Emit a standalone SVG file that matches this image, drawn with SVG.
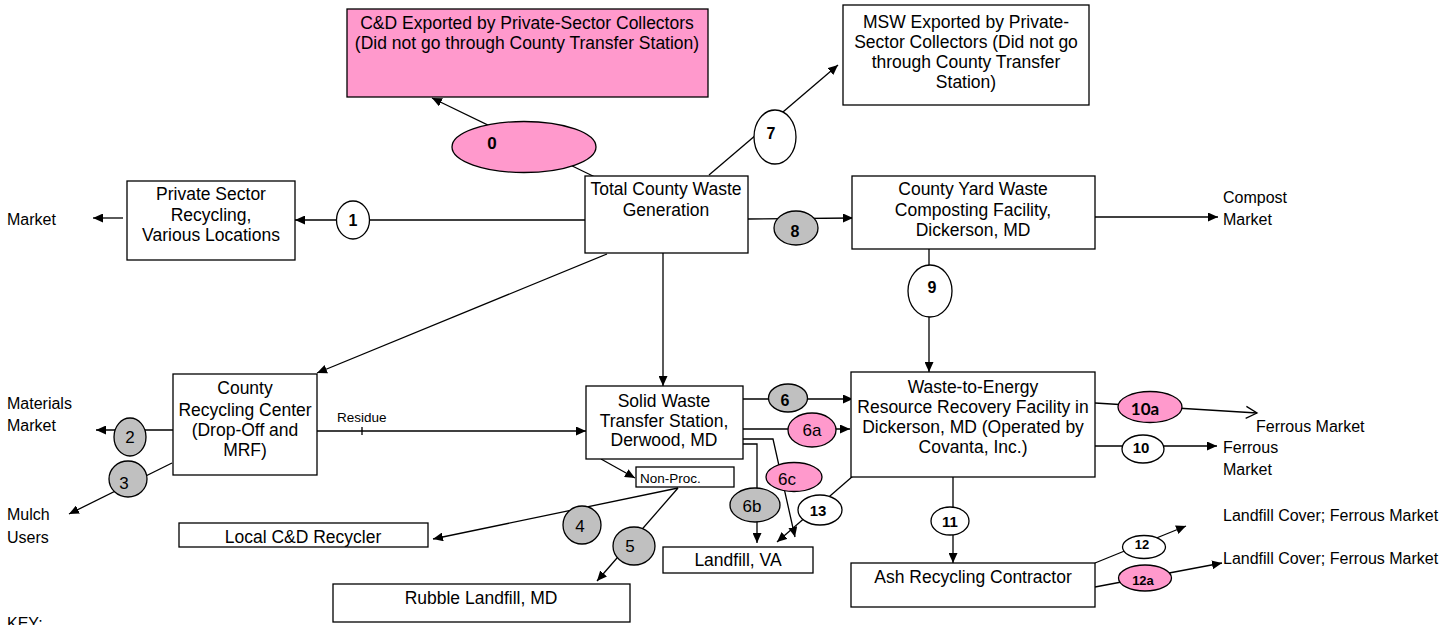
<svg xmlns="http://www.w3.org/2000/svg" width="1451" height="625" viewBox="0 0 1451 625">
<defs>
<marker id="ah" markerUnits="userSpaceOnUse" markerWidth="11" markerHeight="9" refX="10" refY="4.5" orient="auto"><path d="M0,0 L10,4.5 L0,9 z" fill="#000"/></marker>
<marker id="oh" markerUnits="userSpaceOnUse" markerWidth="14" markerHeight="14" refX="12" refY="7" orient="auto"><path d="M1,1 L12,7 L1,13" fill="none" stroke="#000" stroke-width="1.3"/></marker>
<style>
.bx{fill:#fff;stroke:#000;stroke-width:1.3}
.pk{fill:#FF99CC;stroke:#000;stroke-width:1.3}
.gy{fill:#C0C0C0;stroke:#000;stroke-width:1.3}
.wt{fill:#fff;stroke:#000;stroke-width:1.3}
.t{font-family:"Liberation Sans",Arial,sans-serif;font-size:17.5px;fill:#000;text-anchor:middle}
.l{font-family:"Liberation Sans",Arial,sans-serif;font-size:16px;fill:#000}
.s{font-family:"Liberation Sans",Arial,sans-serif;font-size:13.5px;fill:#000}
.n{font-family:"Liberation Sans",Arial,sans-serif;font-size:17px;fill:#000;text-anchor:middle}
.b{font-family:"Liberation Sans",Arial,sans-serif;font-size:16px;font-weight:bold;fill:#000;text-anchor:middle}
.b2{font-family:"Liberation Sans",Arial,sans-serif;font-size:15px;font-weight:bold;fill:#000;text-anchor:middle}
.b3{font-family:"Liberation Sans",Arial,sans-serif;font-size:13px;font-weight:bold;fill:#000;text-anchor:middle}
.c{fill:none;stroke:#000;stroke-width:1.3}
</style>
</defs>
<rect width="1451" height="625" fill="#fff"/>

<g id="connectors">
<line class="c" x1="597" y1="178" x2="432" y2="98" marker-end="url(#ah)"/>
<line class="c" x1="585" y1="220" x2="295" y2="220" marker-end="url(#ah)"/>
<line class="c" x1="123" y1="218" x2="93" y2="218" marker-end="url(#ah)"/>
<line class="c" x1="709" y1="175" x2="838" y2="65" marker-end="url(#ah)"/>
<line class="c" x1="748" y1="219" x2="853" y2="218" marker-end="url(#ah)"/>
<line class="c" x1="1095" y1="217" x2="1218" y2="217" marker-end="url(#ah)"/>
<line class="c" x1="929" y1="249" x2="929" y2="372" marker-end="url(#ah)"/>
<line class="c" x1="663" y1="253" x2="663" y2="386" marker-end="url(#ah)"/>
<line class="c" x1="607" y1="254" x2="317" y2="373" marker-end="url(#ah)"/>
<line class="c" x1="317" y1="431" x2="586" y2="431" marker-end="url(#ah)"/>
<line class="c" x1="362" y1="427" x2="362" y2="435"/>
<line class="c" x1="173" y1="430" x2="96" y2="430" marker-end="url(#ah)"/>
<line class="c" x1="172" y1="463" x2="69" y2="514" marker-end="url(#ah)"/>
<line class="c" x1="601" y1="459" x2="635" y2="478" marker-end="url(#ah)"/>
<line class="c" x1="678" y1="488" x2="433" y2="539" marker-end="url(#ah)"/>
<line class="c" x1="678" y1="488" x2="597" y2="581" marker-end="url(#ah)"/>
<line class="c" x1="743" y1="399" x2="853" y2="399" marker-end="url(#ah)"/>
<line class="c" x1="743" y1="429" x2="850" y2="429" marker-end="url(#ah)"/>
<polyline class="c" points="743,444 757,444 757,543" marker-end="url(#ah)"/>
<polyline class="c" points="743,439 773,439 795,537" marker-end="url(#ah)"/>
<line class="c" x1="853" y1="476" x2="777" y2="542" marker-end="url(#ah)"/>
<line class="c" x1="1095" y1="403" x2="1257" y2="413" marker-end="url(#oh)"/>
<line class="c" x1="1095" y1="446" x2="1217" y2="446" marker-end="url(#ah)"/>
<line class="c" x1="953" y1="477" x2="953" y2="563" marker-end="url(#ah)"/>
<line class="c" x1="1095" y1="563" x2="1186" y2="526" marker-end="url(#ah)"/>
<line class="c" x1="1095" y1="587" x2="1222" y2="563" marker-end="url(#ah)"/>
</g>

<g id="node-cd-exported">
<rect class="pk" x="347" y="9" width="361" height="88"/>
<text class="t" x="527" y="29">C&amp;D Exported by Private-Sector Collectors</text>
<text class="t" x="527" y="49">(Did not go through County Transfer Station)</text>
</g>
<g id="node-msw-exported">
<rect class="bx" x="843" y="5" width="246" height="100"/>
<text class="t" x="966" y="28">MSW Exported by Private-</text>
<text class="t" x="966" y="48">Sector Collectors (Did not go</text>
<text class="t" x="966" y="68">through County Transfer</text>
<text class="t" x="966" y="88">Station)</text>
</g>
<g id="node-private-sector">
<rect class="bx" x="127" y="181" width="168" height="79"/>
<text class="t" x="211" y="200">Private Sector</text>
<text class="t" x="211" y="221">Recycling,</text>
<text class="t" x="211" y="241">Various Locations</text>
</g>
<g id="node-total">
<rect class="bx" x="585" y="176" width="163" height="77"/>
<text class="t" x="666" y="195">Total County Waste</text>
<text class="t" x="666" y="216">Generation</text>
</g>
<g id="node-yard">
<rect class="bx" x="852" y="176" width="243" height="73"/>
<text class="t" x="973" y="195">County Yard Waste</text>
<text class="t" x="973" y="216">Composting Facility,</text>
<text class="t" x="973" y="236">Dickerson, MD</text>
</g>
<g id="node-county-recycling">
<rect class="bx" x="173" y="374" width="144" height="101"/>
<text class="t" x="245" y="394">County</text>
<text class="t" x="245" y="416">Recycling Center</text>
<text class="t" x="245" y="436">(Drop-Off and</text>
<text class="t" x="245" y="456">MRF)</text>
</g>
<g id="node-transfer">
<rect class="bx" x="586" y="386" width="157" height="73"/>
<text class="t" x="664" y="407">Solid Waste</text>
<text class="t" x="664" y="427">Transfer Station,</text>
<text class="t" x="664" y="446">Derwood, MD</text>
</g>
<g id="node-nonproc">
<rect class="bx" x="636" y="467" width="98" height="20"/>
<text class="s" x="640" y="483">Non-Proc.</text>
</g>
<g id="node-wte">
<rect class="bx" x="851" y="372" width="244" height="105"/>
<text class="t" x="973" y="393">Waste-to-Energy</text>
<text class="t" x="973" y="413">Resource Recovery Facility in</text>
<text class="t" x="973" y="433">Dickerson, MD (Operated by</text>
<text class="t" x="973" y="453">Covanta, Inc.)</text>
</g>
<g id="node-local-cd">
<rect class="bx" x="179" y="523" width="249" height="24"/>
<text class="t" x="303" y="543">Local C&amp;D Recycler</text>
</g>
<g id="node-landfill-va">
<rect class="bx" x="663" y="547" width="150" height="26"/>
<text class="t" x="738" y="566">Landfill, VA</text>
</g>
<g id="node-ash">
<rect class="bx" x="851" y="563" width="244" height="44"/>
<text class="t" x="973" y="583">Ash Recycling Contractor</text>
</g>
<g id="node-rubble">
<rect class="bx" x="333" y="584" width="297" height="38"/>
<text class="t" x="481" y="604">Rubble Landfill, MD</text>
</g>

<g id="labels">
<text class="l" x="7" y="225">Market</text>
<text class="l" x="7" y="409">Materials</text>
<text class="l" x="7" y="431">Market</text>
<text class="l" x="7" y="520">Mulch</text>
<text class="l" x="7" y="543">Users</text>
<text class="l" x="1223" y="203">Compost</text>
<text class="l" x="1223" y="225">Market</text>
<text class="l" x="1256" y="432">Ferrous Market</text>
<text class="l" x="1223" y="453">Ferrous</text>
<text class="l" x="1223" y="475">Market</text>
<text class="l" x="1223" y="521">Landfill Cover; Ferrous Market</text>
<text class="l" x="1223" y="564">Landfill Cover; Ferrous Market</text>
<text class="s" x="337" y="422">Residue</text>
<text class="l" x="7" y="629">KEY:</text>
</g>

<g id="flow-labels">
<ellipse class="pk" cx="524" cy="147" rx="72" ry="25.5"/><text class="b" x="492" y="149" style="font-size:17px">0</text>
<ellipse class="wt" cx="353" cy="220" rx="16.5" ry="19"/><text class="b" x="353" y="226">1</text>
<ellipse class="wt" cx="775" cy="137" rx="21" ry="27"/><text class="b" x="771" y="139">7</text>
<ellipse class="gy" cx="796" cy="228" rx="22" ry="17"/><text class="b" x="795" y="237">8</text>
<ellipse class="wt" cx="930" cy="291" rx="22" ry="26"/><text class="b" x="932" y="293">9</text>
<ellipse class="gy" cx="130" cy="437" rx="16" ry="19"/><text class="n" x="130" y="443">2</text>
<ellipse class="gy" cx="128" cy="479" rx="19" ry="18"/><text class="n" x="124" y="489">3</text>
<ellipse class="gy" cx="582" cy="525" rx="19" ry="19"/><text class="n" x="580" y="532">4</text>
<ellipse class="gy" cx="634" cy="546" rx="21" ry="19"/><text class="n" x="630" y="552">5</text>
<ellipse class="gy" cx="788" cy="398" rx="19.5" ry="14"/><text class="b" x="785" y="406">6</text>
<ellipse class="pk" cx="812" cy="430" rx="24" ry="17"/><text class="n" x="812" y="436">6a</text>
<ellipse class="gy" cx="755" cy="505" rx="25" ry="17"/><text class="n" x="752" y="512">6b</text>
<ellipse class="pk" cx="794" cy="477" rx="28" ry="14.5"/><text class="n" x="787" y="485">6c</text>
<ellipse class="wt" cx="820" cy="510" rx="22" ry="15"/><text class="b2" x="818" y="516">13</text>
<ellipse class="pk" cx="1150" cy="407" rx="32" ry="15.5"/><text class="b" x="1145" y="415" style="font-family:Lato,'Liberation Sans',sans-serif;font-size:17px">10a</text>
<ellipse class="wt" cx="1143" cy="449" rx="21" ry="14"/><text class="b2" x="1141" y="453">10</text>
<ellipse class="wt" cx="950" cy="521" rx="19" ry="14"/><text class="b2" x="950" y="527">11</text>
<ellipse class="wt" cx="1144" cy="547" rx="21.5" ry="11.5"/><text class="b3" x="1142" y="549">12</text>
<ellipse class="pk" cx="1145" cy="578" rx="26.5" ry="13"/><text class="b3" x="1143" y="585">12a</text>
</g>
</svg>
